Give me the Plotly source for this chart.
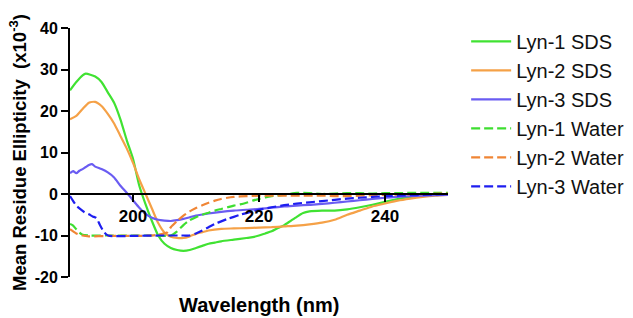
import plotly.graph_objects as go

# ---- data ----
lyn1_sds_x = [190, 191, 192, 192.5, 194, 195, 196, 197, 198, 199, 200, 201, 202, 203, 204, 205, 206, 207,
              208, 209, 210, 211, 212, 213, 214, 216, 218, 219, 220, 221, 222, 223, 224, 225, 226, 227,
              228, 230, 232, 234, 236, 238, 240, 242, 244, 246, 248, 250]
lyn1_sds_y = [25.0, 27.0, 28.6, 29.0, 28.3, 27.0, 24.5, 22.0, 18.0, 13.0, 8.5, 2.0, -2.5, -6.5, -10.0, -12.0,
              -13.0, -13.5, -13.7, -13.5, -13.0, -12.5, -12.0, -11.7, -11.4, -11.0, -10.6, -10.4, -10.0,
              -9.5, -9.0, -8.2, -7.5, -6.5, -5.5, -4.6, -4.2, -4.0, -4.0, -3.7, -3.2, -2.6, -1.9, -1.2,
              -0.7, -0.4, -0.2, 0.0]

lyn2_sds_x = [190, 191, 192, 193, 194, 195, 196, 197, 198, 199, 200, 201, 202, 203, 204, 205, 206, 207, 208,
              209, 210, 211, 212, 214, 216, 218, 220, 222, 224, 226, 228, 230, 232, 234, 236, 238, 240,
              242, 244, 246, 248, 250]
lyn2_sds_y = [18.0, 18.8, 20.5, 22.0, 22.2, 21.2, 19.3, 17.0, 14.0, 11.0, 7.5, 3.5, 0.0, -3.5, -7.0, -9.3,
              -10.3, -10.6, -10.6, -10.2, -9.6, -9.2, -8.8, -8.4, -8.3, -8.2, -8.1, -8.0, -7.8, -7.6, -7.3,
              -6.9, -6.2, -5.0, -4.0, -3.0, -2.3, -1.6, -1.1, -0.7, -0.4, -0.2]

lyn3_sds_x = [190, 190.5, 191, 191.5, 192, 192.5, 193, 193.5, 194, 195, 196, 197, 198, 199, 200, 201, 202,
              203, 204, 205, 206, 207, 208, 209, 210, 212, 214, 216, 218, 220, 222, 224, 226, 228, 230,
              232, 234, 236, 238, 240, 242, 244, 246, 248, 250]
lyn3_sds_y = [5.0, 5.5, 5.0, 5.6, 6.0, 6.5, 7.0, 7.2, 6.6, 6.0, 5.2, 4.0, 2.0, 0.3, -1.5, -3.3, -4.8, -5.7,
              -6.2, -6.4, -6.5, -6.3, -6.0, -5.6, -5.2, -4.7, -4.3, -4.0, -3.8, -3.6, -3.3, -3.0, -2.8,
              -2.6, -2.4, -2.1, -1.8, -1.5, -1.2, -0.9, -0.7, -0.5, -0.4, -0.3, -0.2]

lyn1_water_x = [190, 190.5, 191, 191.5, 192, 193, 196, 200, 203, 206, 207, 208, 209, 210, 211, 212, 213,
                214, 215, 216, 217, 218, 219, 220, 221, 222, 224, 226, 228, 230, 232, 234, 236, 238,
                240, 242, 244, 246, 248, 250]
lyn1_water_y = [-7.2, -7.6, -8.5, -9.3, -9.8, -10.0, -10.0, -10.0, -10.0, -10.0, -9.0, -7.5, -6.3, -5.6,
                -5.0, -4.5, -4.0, -3.6, -3.2, -2.8, -2.5, -2.1, -1.6, -1.2, -0.8, -0.5, -0.2, 0.3, 0.2,
                0.0, 0.1, 0.2, 0.2, 0.1, 0.2, 0.2, 0.3, 0.3, 0.3, 0.3]

lyn2_water_x = [190, 190.5, 191, 192, 193, 196, 200, 203, 204, 205, 205.5, 206, 207, 208, 209, 210, 211,
                212, 213, 214, 215, 216, 218, 220, 222, 224, 226, 228, 230, 232, 234, 236, 238, 240,
                244, 250]
lyn2_water_y = [-8.5, -9.0, -9.5, -10.0, -10.2, -10.1, -10.1, -10.0, -9.8, -9.5, -9.2, -8.0, -6.5, -5.2,
                -4.2, -3.4, -2.7, -2.1, -1.6, -1.2, -0.9, -0.7, -0.5, -0.4, -0.4, -0.4, -0.4, -0.4, -0.4,
                -0.5, -0.5, -0.4, -0.3, -0.2, -0.1, 0.1]

lyn3_water_x = [190, 190.3, 191, 191.6, 192.3, 193, 193.6, 194.2, 194.7, 195.2, 195.8, 196.3, 200, 204,
                208, 209, 210, 211, 212, 213, 214, 215, 216, 217, 218, 219, 220, 222, 224, 226, 228,
                230, 232, 234, 236, 238, 240, 242, 244, 246, 248, 250]
lyn3_water_y = [-0.5, -1.2, -2.8, -3.6, -4.4, -4.9, -5.4, -5.8, -7.3, -8.7, -9.8, -10.1, -10.1, -10.0,
                -10.0, -10.0, -9.5, -8.8, -8.0, -7.2, -6.6, -6.0, -5.5, -5.0, -4.6, -4.2, -3.8, -3.2,
                -2.7, -2.3, -2.0, -1.7, -1.4, -1.1, -0.9, -0.7, -0.5, -0.4, -0.3, -0.2, -0.1, 0.0]

series_names = ["Lyn-1 SDS", "Lyn-2 SDS", "Lyn-3 SDS", "Lyn-1 Water", "Lyn-2 Water", "Lyn-3 Water"]
x_ticks = [200, 220, 240]
y_ticks = [-20, -10, 0, 10, 20, 30, 40]

# ---- styling ----
xs = [lyn1_sds_x, lyn2_sds_x, lyn3_sds_x, lyn1_water_x, lyn2_water_x, lyn3_water_x]
ys = [lyn1_sds_y, lyn2_sds_y, lyn3_sds_y, lyn1_water_y, lyn2_water_y, lyn3_water_y]
colors = ["#40e232", "#f5a147", "#6a5cf2", "#3ede30", "#f08535", "#1e1ef0"]
dashes = ["solid", "solid", "solid", "9px,4px", "9px,4px", "9px,4px"]

FONT = "Liberation Sans, Arial, sans-serif"

fig = go.Figure()
for i in range(6):
    fig.add_trace(go.Scatter(
        x=xs[i], y=ys[i], mode="lines", name=series_names[i],
        line=dict(color=colors[i], width=2.2, dash=dashes[i], shape="spline", smoothing=0.6),
    ))

# page body adds an 8px offset on the left and top, so the figure is 8px smaller
fig.update_layout(
    width=625, height=310,
    margin=dict(l=62, r=185, t=20, b=41, autoexpand=False),
    paper_bgcolor="white", plot_bgcolor="white",
    font=dict(family=FONT, color="black"),
    showlegend=True,
    legend=dict(
        x=1.048, y=0.655, xanchor="left", yanchor="middle",
        font=dict(family=FONT, size=20, color="#111111"),
        itemwidth=40, tracegroupgap=0, bgcolor="rgba(0,0,0,0)",
    ),
    xaxis=dict(
        range=[190, 250], tickvals=x_ticks, ticktext=[str(v) for v in x_ticks],
        anchor="free", position=1/3,
        showline=True, linecolor="black", linewidth=2,
        ticks="outside", ticklen=7, tickwidth=2, tickcolor="black",
        tickfont=dict(family=FONT, size=17, weight="bold", color="black"),
        showgrid=False, zeroline=False,
    ),
    yaxis=dict(
        range=[-20, 40], tickvals=y_ticks, ticktext=[str(v) for v in y_ticks],
        showline=True, linecolor="black", linewidth=2,
        ticks="outside", ticklen=7, tickwidth=2, tickcolor="black",
        tickfont=dict(family=FONT, size=16, weight="bold", color="black"),
        showgrid=False, zeroline=False,
    ),
    annotations=[
        dict(text="<b>Wavelength (nm)</b>", xref="paper", yref="paper", x=0.5, y=-0.112,
             xanchor="center", yanchor="middle", showarrow=False,
             font=dict(family=FONT, size=20, color="black")),
        dict(text="<b>Mean Residue Ellipticity&nbsp; (x10<sup>-3</sup>)</b>", xref="paper", yref="paper",
             x=-0.139, y=0.5, xanchor="center", yanchor="middle", textangle=-90, showarrow=False,
             font=dict(family=FONT, size=18.5, color="black")),
    ],
)

fig.write_html("out.html")
